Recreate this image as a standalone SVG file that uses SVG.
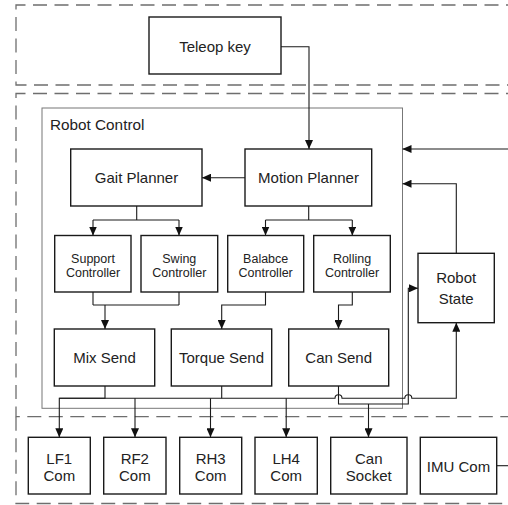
<svg xmlns="http://www.w3.org/2000/svg" width="508" height="505" viewBox="0 0 508 505">
<style>
.frame{fill:none;stroke:#6e6e6e;stroke-width:1.3;stroke-dasharray:14 7.5}
.box{fill:#fff;stroke:#1a1a1a;stroke-width:1.4}
.ctl{fill:none;stroke:#777;stroke-width:1}
.c{fill:none;stroke:#1a1a1a;stroke-width:1.1}
.a{marker-end:url(#arr)}
text{font-family:"Liberation Sans",Arial,sans-serif;font-size:15px;fill:#222;text-anchor:middle}
.s{font-size:12.5px}
</style>
<defs>
<marker id="arr" markerUnits="userSpaceOnUse" markerWidth="9" markerHeight="8" viewBox="0 0 9 8" refX="9" refY="4" orient="auto">
<path d="M0,0 L9,4 L0,8 z" fill="#111"/>
</marker>
</defs>
<rect width="508" height="505" fill="#fff"/>
<g id="frames">
<path class="frame" d="M520 5 H16 V85 H520"/>
<path class="frame" d="M520 93.5 H16 V416.7 H520"/>
<path class="frame" d="M16 416.7 V503.5 H520"/>
</g>
<g id="robot-control">
<rect class="ctl" x="42" y="108" width="360.5" height="300.3"/>
<text x="50" y="129.5" style="text-anchor:start;font-size:15.3px">Robot Control</text>
</g>
<g id="connectors">
<path class="c a" d="M281 46.7 H309 V149"/>
<path class="c a" d="M245 177.7 H202"/>
<path class="c" d="M136.7 206 V220 M93 220 H179"/>
<path class="c a" d="M93 220 V235.5"/>
<path class="c a" d="M179 220 V235.5"/>
<path class="c" d="M308.7 206 V220 M265.5 220 H352.3"/>
<path class="c a" d="M265.5 220 V235.5"/>
<path class="c a" d="M352.3 220 V235.5"/>
<path class="c" d="M93 292 V305 M179 292 V305 M93 305 H179"/>
<path class="c a" d="M105 305 V329"/>
<path class="c a" d="M265.5 292 V305 H221.7 V329"/>
<path class="c a" d="M352.3 292 V305 H338.5 V329"/>
<path class="c a" d="M105 386 V398.3 H59.3 V437.3"/>
<path class="c" d="M221.7 386 V398.3"/>
<path class="c a" d="M59.3 398.3 H335 A3.5 3.5 0 0 1 342 398.3 H404.8 A3.5 3.5 0 0 1 411.8 398.3 H456.3 V322.7"/>
<path class="c a" d="M135 398.3 V437.3"/>
<path class="c a" d="M210.5 398.3 V437.3"/>
<path class="c a" d="M286.2 398.3 V437.3"/>
<path class="c a" d="M338.5 386 V404 H408.3 V288.3 H418"/>
<path class="c a" d="M368.5 404 V437.3"/>
<path class="c a" d="M456.3 253.3 V183.7 H402.5"/>
<path class="c a" d="M510 149 H402.5"/>
<path class="c" d="M496.7 465.7 H510"/>
</g>
<g id="teleop-key"><rect class="box" x="149" y="17" width="132" height="57"/><text x="215" y="52">Teleop key</text></g>
<g id="gait-planner"><rect class="box" x="70.7" y="149" width="131.3" height="57"/><text x="136.5" y="183">Gait Planner</text></g>
<g id="motion-planner"><rect class="box" x="245" y="149" width="126.7" height="57"/><text x="308.5" y="183">Motion Planner</text></g>
<g id="support-controller"><rect class="box" x="54.7" y="235.5" width="76.3" height="56.5"/><text class="s" x="93" y="262.5">Support</text><text class="s" x="93" y="276.5">Controller</text></g>
<g id="swing-controller"><rect class="box" x="141" y="235.5" width="76.7" height="56.5"/><text class="s" x="179.3" y="262.5">Swing</text><text class="s" x="179.3" y="276.5">Controller</text></g>
<g id="balabce-controller"><rect class="box" x="227.7" y="235.5" width="76" height="56.5"/><text class="s" x="265.7" y="262.5">Balabce</text><text class="s" x="265.7" y="276.5">Controller</text></g>
<g id="rolling-controller"><rect class="box" x="313.7" y="235.5" width="76.6" height="56.5"/><text class="s" x="352" y="262.5">Rolling</text><text class="s" x="352" y="276.5">Controller</text></g>
<g id="mix-send"><rect class="box" x="54.3" y="329" width="100.4" height="57"/><text x="104.5" y="363">Mix Send</text></g>
<g id="torque-send"><rect class="box" x="171.3" y="329" width="100.4" height="57"/><text x="221.5" y="363">Torque Send</text></g>
<g id="can-send"><rect class="box" x="288.7" y="329" width="100" height="57"/><text x="338.7" y="363">Can Send</text></g>
<g id="robot-state"><rect class="box" x="418" y="253.3" width="76.3" height="69.4"/><text x="456.2" y="282.7">Robot</text><text x="456.2" y="303.5">State</text></g>
<g id="lf1-com"><rect class="box" x="28.3" y="437.3" width="62" height="56.7"/><text x="59.3" y="463.5">LF1</text><text x="59.3" y="480.5">Com</text></g>
<g id="rf2-com"><rect class="box" x="103.7" y="437.3" width="62.3" height="56.7"/><text x="134.8" y="463.5">RF2</text><text x="134.8" y="480.5">Com</text></g>
<g id="rh3-com"><rect class="box" x="179.7" y="437.3" width="62" height="56.7"/><text x="210.7" y="463.5">RH3</text><text x="210.7" y="480.5">Com</text></g>
<g id="lh4-com"><rect class="box" x="255" y="437.3" width="62.3" height="56.7"/><text x="286.2" y="463.5">LH4</text><text x="286.2" y="480.5">Com</text></g>
<g id="can-socket"><rect class="box" x="330.7" y="437.3" width="76.3" height="56.7"/><text x="368.8" y="463.5">Can</text><text x="368.8" y="480.5">Socket</text></g>
<g id="imu-com"><rect class="box" x="420.3" y="437.3" width="76.4" height="56.7"/><text x="458.5" y="471.5">IMU Com</text></g>
</svg>
